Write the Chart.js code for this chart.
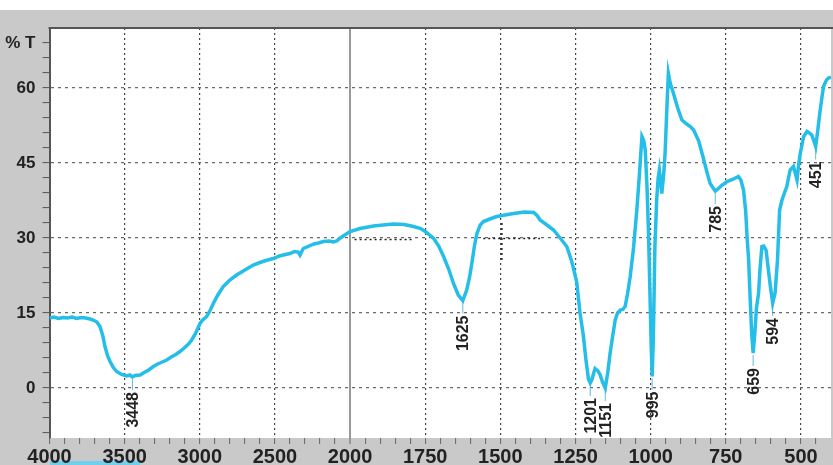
<!DOCTYPE html>
<html>
<head>
<meta charset="utf-8">
<title>IR spectrum</title>
<script src="https://cdn.jsdelivr.net/npm/chart.js@4.4.1/dist/chart.umd.min.js"></script>
<style>
  html, body { margin: 0; padding: 0; background: #fff; overflow: hidden; }
  #wrap { position: relative; width: 833px; height: 465px; }
</style>
</head>
<body>
<div id="wrap"><canvas id="ir"></canvas></div>
<script>
// Wavenumber (cm-1) and transmittance (%T) of the spectrum
const wavenumber = [
  4000, 3970, 3940, 3910, 3880, 3850, 3820, 3790, 3760, 3730,
  3709, 3685, 3664, 3645, 3631, 3614, 3597, 3575, 3553, 3520,
  3486, 3465, 3448, 3430, 3398, 3370, 3340, 3309, 3280, 3250,
  3220, 3190, 3160, 3132, 3100, 3075, 3054, 3030, 3015, 2999,
  2980, 2954, 2930, 2910, 2880, 2844, 2800, 2755, 2700, 2644,
  2600, 2560, 2511, 2470, 2430, 2400, 2370, 2345, 2333, 2320,
  2311, 2280, 2240, 2210, 2178, 2140, 2110, 2089, 2065, 2045,
  2020, 2000, 1967, 1940, 1922, 1890, 1856, 1820, 1789, 1765,
  1750, 1737, 1722, 1705, 1689, 1672, 1656, 1640, 1625, 1612,
  1603, 1595, 1586, 1578, 1567, 1556, 1535, 1512, 1485, 1456,
  1420, 1389, 1378, 1368, 1345, 1323, 1300, 1279, 1262, 1246,
  1235, 1224, 1215, 1207, 1201, 1196, 1185, 1175, 1168, 1160,
  1151, 1143, 1135, 1126, 1118, 1110, 1101, 1093, 1085, 1077,
  1068, 1057, 1046, 1037, 1029, 1023, 1018, 1012, 1007, 1002,
  998, 995, 991, 986, 980, 975, 971, 967, 963, 957,
  952, 946, 941, 935, 924, 910, 896, 880, 868, 857,
  840, 824, 812, 802, 791, 785, 776, 764, 746, 728,
  708, 700, 691, 684, 679, 674, 669, 664, 659, 654,
  648, 641, 636, 630, 624, 616, 609, 602, 594, 586,
  578, 571, 563, 555, 547, 536, 525, 519, 513, 508,
  502, 491, 480, 472, 464, 457, 451, 444, 436, 425,
  415, 408, 400
];
const transmittance = [
  14.0, 14.2, 13.9, 14.1, 14.0, 14.2, 13.9, 14.1, 14.0, 13.8,
  13.6, 13.2, 12.3, 10.4, 8.3, 6.5, 5.3, 4.1, 3.3, 2.7,
  2.4, 2.6, 2.2, 2.5, 2.6, 3.1, 3.6, 4.3, 4.8, 5.2,
  5.6, 6.2, 6.7, 7.3, 8.1, 8.8, 9.6, 10.8, 11.8, 12.9,
  13.6, 14.3, 15.6, 16.9, 18.6, 20.3, 21.6, 22.6, 23.6, 24.6,
  25.1, 25.5, 25.9, 26.4, 26.7, 26.9, 27.3, 27.2, 26.6, 27.4,
  27.9, 28.3, 28.8, 29.0, 29.3, 29.4, 29.2, 29.4, 30.0, 30.4,
  30.9, 31.3, 31.9, 32.2, 32.4, 32.6, 32.8, 32.7, 32.3, 31.9,
  31.3, 30.7, 29.9, 28.4, 26.3, 23.8, 20.9, 18.6, 17.5, 19.6,
  22.0, 24.9, 28.5, 30.9, 32.6, 33.3, 33.8, 34.3, 34.6, 34.9,
  35.2, 35.1, 34.5, 33.6, 32.6, 31.6, 29.9, 28.3, 25.2, 21.2,
  15.0, 10.5, 5.5, 1.8, 1.0, 1.6, 3.9, 3.4, 2.6, 1.2,
  0.0, 3.0, 6.9, 10.5, 13.6, 15.0, 15.6, 15.7, 16.3, 18.8,
  22.3, 28.0, 35.6, 43.0, 50.3, 49.5, 47.6, 40.0, 30.9, 18.0,
  8.0, 2.3, 10.0, 28.0, 37.6, 42.0, 43.6, 41.5, 38.9, 42.5,
  46.9, 56.0, 62.9, 61.0, 58.9, 56.0, 53.6, 52.8, 52.3, 51.6,
  49.4, 45.8, 43.0, 40.9, 39.9, 39.4, 39.8, 40.5, 41.3, 41.7,
  42.3, 41.6, 39.6, 35.5, 30.0, 25.6, 18.0, 11.0, 7.0, 10.5,
  16.0, 18.9, 24.0, 28.3, 28.4, 27.6, 24.0, 20.5, 17.0, 19.0,
  25.6, 35.6, 37.6, 39.0, 40.3, 43.6, 44.3, 43.0, 41.6, 44.5,
  47.0, 50.3, 51.3, 51.0, 50.6, 49.4, 48.3, 51.5, 55.6, 60.3,
  61.6, 62.0, 62.2
];

// Labelled absorption bands (cm-1)
const peakWavenumbers = [3448, 1625, 1201, 1151, 995, 785, 659, 594, 451];

// Axis tick labels
const xMajorTicks = [4000, 3500, 3000, 2500, 2000, 1750, 1500, 1250, 1000, 750, 500];
const yMajorTicks = [0, 15, 30, 45, 60];
const yAxisTitle = '% T';

// Dotted marker segments left on the trace: [from cm-1, from %T, to cm-1, to %T]
const markerSegments = [
  [1985, 29.7, 1795, 29.7],
  [1557, 29.9, 1368, 29.9],
  [1495, 33.0, 1495, 25.4]
];

const FONT = '"Liberation Sans", Arial, Helvetica, sans-serif';
const TEXT_COLOR = '#222';
const TRACE_COLOR = 'rgb(36, 190, 232)';

// Minor ticks: every 100 cm-1 above the 2000 break, every 50 cm-1 below it
const xTickValues = [];
for (let v = 4000; v >= 2000; v -= 100) xTickValues.push(v);
for (let v = 1950; v >= 450; v -= 50) xTickValues.push(v);
const yTickValues = [];
for (let v = -9; v <= 69; v += 3) yTickValues.push(v);
const yTitleTick = 69;

// Linear scale whose range above the split point is compressed (FTIR style 2000 cm-1 break)
class SplitLinearScale extends Chart.LinearScale {
  warp(v) {
    const s = this.options.split, k = this.options.upperRatio;
    return v <= s ? v : s + (v - s) * k;
  }
  unwarp(t) {
    const s = this.options.split, k = this.options.upperRatio;
    return t <= s ? t : s + (t - s) / k;
  }
  getPixelForValue(value) {
    if (value === null || value === undefined || isNaN(value)) return NaN;
    const a = this.warp(this.min), b = this.warp(this.max);
    return this.getPixelForDecimal((this.warp(value) - a) / (b - a));
  }
  getValueForPixel(pixel) {
    const a = this.warp(this.min), b = this.warp(this.max);
    return this.unwarp(a + this.getDecimalForPixel(pixel) * (b - a));
  }
}
SplitLinearScale.id = 'splitLinear';
SplitLinearScale.defaults = { ticks: { callback: Chart.Ticks.formatters.numeric } };
Chart.register(SplitLinearScale);

// Grey instrument frame behind a white plotting field
const framePlugin = {
  id: 'frame',
  beforeDraw(chart) {
    const { ctx, chartArea: a, width, height } = chart;
    ctx.save();
    ctx.fillStyle = '#fff';
    ctx.fillRect(0, 0, width, height);
    ctx.fillStyle = '#c9c9c9';
    ctx.fillRect(0, 10, width, height - 10);
    ctx.fillStyle = '#fff';
    ctx.fillRect(a.left, a.top, a.right - a.left, a.bottom - a.top);
    ctx.fillStyle = '#6fd0ee';
    ctx.fillRect(50, 461, 90, 4);
    ctx.restore();
  },
  afterDraw(chart) {
    const { ctx, chartArea: a } = chart;
    ctx.save();
    ctx.strokeStyle = '#555';
    ctx.lineWidth = 2;
    ctx.beginPath();
    ctx.moveTo(a.left - 1, a.top);
    ctx.lineTo(a.right + 2, a.top);
    ctx.stroke();
    ctx.restore();
  }
};

// Dotted marker segments
const markerPlugin = {
  id: 'markers',
  beforeDatasetsDraw(chart) {
    const { ctx, scales: { x, y } } = chart;
    ctx.save();
    ctx.strokeStyle = '#222';
    ctx.lineWidth = 1.5;
    ctx.setLineDash([2, 3]);
    markerSegments.forEach(([w1, t1, w2, t2]) => {
      ctx.beginPath();
      ctx.moveTo(x.getPixelForValue(w1), y.getPixelForValue(t1));
      ctx.lineTo(x.getPixelForValue(w2), y.getPixelForValue(t2));
      ctx.stroke();
    });
    ctx.restore();
  }
};

// Vertical band labels under each labelled minimum
const peakLabelPlugin = {
  id: 'peakLabels',
  afterDatasetsDraw(chart) {
    const { ctx, scales: { x, y } } = chart;
    const gap = 15;
    ctx.save();
    ctx.font = 'bold 16px ' + FONT;
    ctx.fillStyle = TEXT_COLOR;
    peakWavenumbers.forEach(w => {
      const i = wavenumber.indexOf(w);
      const px = x.getPixelForValue(w);
      const py = y.getPixelForValue(transmittance[i]);
      ctx.strokeStyle = 'rgba(60, 170, 210, 0.8)';
      ctx.lineWidth = 1;
      ctx.beginPath();
      ctx.moveTo(px, py + 2);
      ctx.lineTo(px, py + gap - 2);
      ctx.stroke();
      ctx.save();
      ctx.translate(px + 1, py + gap);
      ctx.rotate(-Math.PI / 2);
      ctx.textAlign = 'right';
      ctx.textBaseline = 'middle';
      ctx.fillText(String(w), 0, 0);
      ctx.restore();
    });
    ctx.restore();
  }
};

const isTick = (c) => c && c.tick;

new Chart(document.getElementById('ir'), {
  type: 'line',
  data: {
    datasets: [{
      data: wavenumber.map((w, i) => ({ x: w, y: transmittance[i] })),
      borderColor: TRACE_COLOR,
      borderWidth: 3.5,
      pointRadius: 0,
      tension: 0,
      fill: false
    }]
  },
  options: {
    responsive: true,
    maintainAspectRatio: false,
    animation: false,
    devicePixelRatio: 1,
    layout: { padding: { top: 28, right: 2, bottom: 0, left: 0 } },
    plugins: { legend: { display: false }, tooltip: { enabled: false } },
    scales: {
      x: {
        type: 'splitLinear',
        split: 2000,
        upperRatio: 0.5,
        min: 400,
        max: 4000,
        reverse: true,
        afterBuildTicks: (s) => { s.ticks = xTickValues.map(v => ({ value: v })); },
        afterFit: (s) => { s.height = 27; },
        ticks: {
          autoSkip: false,
          maxRotation: 0,
          minRotation: 0,
          padding: 1,
          color: TEXT_COLOR,
          font: { family: FONT, size: 20, weight: 'bold' },
          callback: (v) => xMajorTicks.includes(v) ? String(v) : ''
        },
        grid: {
          drawTicks: true,
          tickLength: 6,
          tickWidth: 1,
          tickColor: '#666',
          color: (c) => {
            if (!isTick(c)) return 'transparent';
            const v = c.tick.value;
            if (v === 4000) return 'transparent';
            if (v === 2000) return '#9a9a9a';
            return xMajorTicks.includes(v) ? '#444' : 'transparent';
          },
          lineWidth: (c) => (isTick(c) && c.tick.value === 2000) ? 2 : 1.2
        },
        border: {
          display: false,
          dash: (c) => (isTick(c) && c.tick.value === 2000) ? [] : [2, 3]
        }
      },
      y: {
        min: -10,
        max: 72,
        afterBuildTicks: (s) => { s.ticks = yTickValues.map(v => ({ value: v })); },
        afterFit: (s) => { s.width = 49.5; },
        ticks: {
          autoSkip: false,
          padding: 7,
          color: TEXT_COLOR,
          font: { family: FONT, size: 17, weight: 'bold' },
          callback: (v) => yMajorTicks.includes(v) ? String(v) : (v === yTitleTick ? yAxisTitle : '')
        },
        grid: {
          drawTicks: true,
          tickLength: 7,
          tickWidth: 1,
          tickColor: '#555',
          color: (c) => (isTick(c) && yMajorTicks.includes(c.tick.value)) ? '#6a6a6a' : 'transparent',
          lineWidth: 1.2
        },
        border: {
          display: true,
          color: '#555',
          width: 2,
          dash: [3, 4]
        }
      }
    }
  },
  plugins: [framePlugin, markerPlugin, peakLabelPlugin]
});
</script>
</body>
</html>
